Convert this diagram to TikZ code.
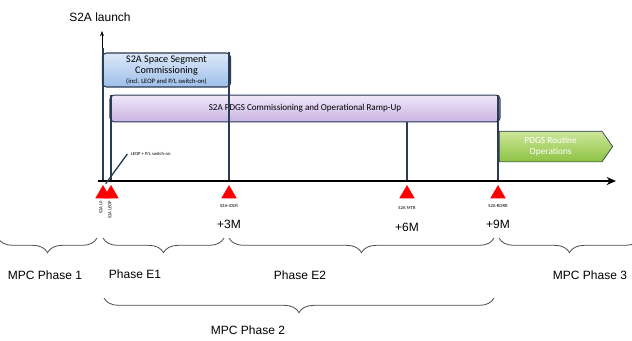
\documentclass[tikz,border=0pt]{standalone}
\usepackage{fontspec}
\setmainfont{Liberation Sans}
\newfontfamily\calfont{Carlito}
\usetikzlibrary{arrows.meta,decorations.pathreplacing,shapes.symbols}
\definecolor{navy}{HTML}{2B3A55}
\definecolor{bluetop}{HTML}{DCE8F8}
\definecolor{bluebot}{HTML}{9DBFEA}
\definecolor{purtop}{HTML}{F1E8FA}
\definecolor{purbot}{HTML}{C9B3E3}
\definecolor{grtop}{HTML}{CDE79A}
\definecolor{grbot}{HTML}{8DC243}
\tikzset{
  boxbase/.style={draw=navy, line width=0.8pt, rounded corners=3pt, inner sep=1pt, align=center},
  bluebox/.style={boxbase, top color=bluetop, bottom color=bluebot, font=\calfont\fontsize{7.6}{8.4}\selectfont},
  purbox/.style={boxbase, top color=purtop, bottom color=purbot, font=\calfont\fontsize{6.8}{8}\selectfont},
  greenbox/.style={signal, signal to=east, signal pointer angle=110, draw=navy, line width=0.5pt, top color=grtop, bottom color=grbot, text=white, align=center, inner sep=1pt, font=\calfont\fontsize{7}{8.5}\selectfont},
  vline/.style={draw=navy, line width=1.2pt},
  redtri/.style={fill=red, draw=none},
  tiny/.style={font=\calfont\fontsize{3.5}{4}\selectfont, inner sep=0.5pt},
  big/.style={font=\fontsize{9}{10}\selectfont, inner sep=1pt},
  phbrace/.style={draw=black!70, line width=0.6pt, decorate, decoration={brace, amplitude=11pt, aspect=0.5, mirror}},
}
\begin{document}
\begin{tikzpicture}[x=0.75pt, y=-0.75pt]
\useasboundingbox (0,0) rectangle (632,340);
% launch
\node[big] (launch) at (100,17) {S2A launch};
\coordinate (arrbot) at (102,48);
\coordinate (arrtop) at (102,31);
\draw[line width=0.7pt, -{Stealth[length=4pt,width=3pt]}] (arrbot) -- (arrtop);
% boxes
\node[bluebox, minimum width=96pt, minimum height=25.5pt] (ssc) at (166.5,70)
  {S2A Space Segment\\Commissioning\\[-1pt]{\fontsize{5}{5.5}\selectfont (incl. LEOP and P/L switch-on)}};
\node[purbox, minimum width=292.5pt, minimum height=20pt] (pdgs) at (305,108.5)
  {S2A PDGS Commissioning and Operational Ramp-Up};
\node[greenbox, minimum width=85pt, minimum height=23pt, anchor=west] (rout) at (499,146.5)
  {PDGS Routine\\Operations};
% axis
\coordinate (ax0) at (98,181);
\coordinate (ax1) at (616,181);
\coordinate (m1) at (103,181);
\coordinate (m2) at (111,181);
\coordinate (m3) at (229,181);
\coordinate (m4) at (407,181);
\coordinate (m5) at (498,181);
% vertical lines
\draw[vline] (m1 |- arrbot) -- (m1);
\draw[vline] (m3 |- ssc.north) -- (m3);
\draw[vline] (m2 |- pdgs.north) -- (m2);
\draw[vline] (m4 |- pdgs.south) -- (m4);
\draw[vline] (m5 |- pdgs.north) -- (m5);
\draw[line width=1.5pt, -{Stealth[length=7pt,width=6pt]}] (ax0) -- (ax1);
% triangles
\foreach \m in {m1,m2,m3,m4,m5}{
  \fill[redtri] ([yshift=-3pt]\m) -- ([xshift=-5.8pt,yshift=-13pt]\m) -- ([xshift=5.8pt,yshift=-13pt]\m) -- cycle;
}
% LEOP pointer
\node[tiny, anchor=west] (leop) at (130,154) {LEOP + P/L switch-on};
\draw[navy, line width=1pt] ([xshift=2pt,yshift=-2pt]m1) -- ([xshift=-2pt]leop.west);
% milestone labels
\node[tiny, rotate=90, anchor=east] (l1) at (101,200) {S2A L0};
\node[tiny, rotate=90, anchor=east] (l2) at (110,200) {S2A LEOP};
\node[tiny] (l3) at (229,206) {S2A-IOCR};
\node[big] (p3) at (229,224) {+3M};
\node[tiny] (l4) at (407,208) {S2A MTR};
\node[big] (p6) at (407,227) {+6M};
\node[tiny] (l5) at (498,206) {S2A-RORR};
\node[big] (p9) at (498,224) {+9M};
% braces
\coordinate (b1a) at (-2,238); \coordinate (b1b) at (97,238);
\coordinate (b2a) at (103,238); \coordinate (b2b) at (224,238);
\coordinate (b3a) at (229,238); \coordinate (b3b) at (494,238);
\coordinate (b4a) at (499,238); \coordinate (b4b) at (640,238);
\coordinate (b5a) at (104,298); \coordinate (b5b) at (494,298);
\draw[phbrace] (b1a) -- (b1b);
\draw[phbrace] (b2a) -- (b2b);
\draw[phbrace] (b3a) -- (b3b);
\draw[phbrace] (b4a) -- (b4b);
\draw[phbrace] (b5a) -- (b5b);
\node[big] (ph1) at (45,275) {MPC Phase 1};
\node[big] (phe1) at (135,274) {Phase E1};
\node[big] (phe2) at (300,275) {Phase E2};
\node[big] (ph3) at (590,275) {MPC Phase 3};
\node[big] (ph2) at (248,330) {MPC Phase 2};
\end{tikzpicture}
\end{document}
